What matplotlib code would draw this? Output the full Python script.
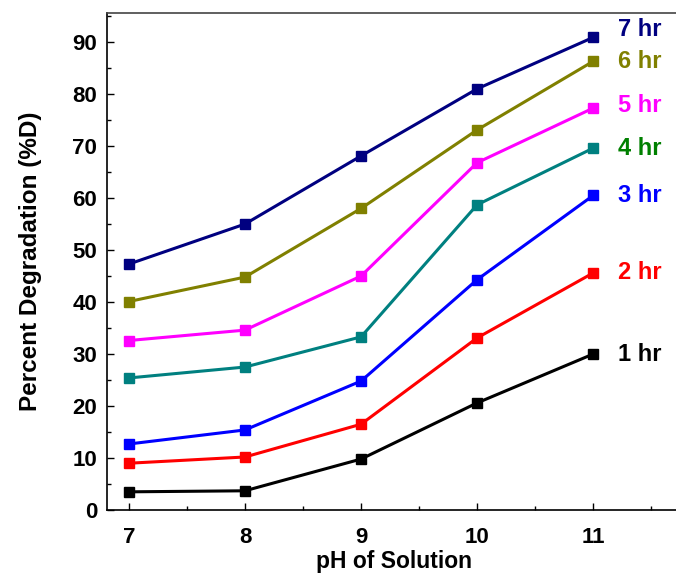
import matplotlib
matplotlib.use('Agg')
from matplotlib import pyplot as plt
from matplotlib.ticker import MultipleLocator

plt.rcParams['font.family'] = ['Liberation Sans', 'DejaVu Sans']
plt.rcParams['font.weight'] = 'bold'

ph = [7, 8, 9, 10, 11]
hr1 = [3.5, 3.7, 9.8, 20.6, 30.0]
hr2 = [9.0, 10.2, 16.5, 33.1, 45.6]
hr3 = [12.7, 15.4, 24.8, 44.3, 60.5]
hr4 = [25.4, 27.5, 33.3, 58.7, 69.6]
hr5 = [32.6, 34.6, 45.0, 66.8, 77.3]
hr6 = [40.1, 44.8, 58.0, 73.1, 86.3]
hr7 = [47.3, 55.0, 68.1, 81.0, 90.9]

series = [hr1, hr2, hr3, hr4, hr5, hr6, hr7]
labels = ['1 hr', '2 hr', '3 hr', '4 hr', '5 hr', '6 hr', '7 hr']
line_colors = ['#000000', '#ff0000', '#0000ff', '#008080', '#ff00ff', '#808000', '#000080']
text_colors = ['#000000', '#ff0000', '#0000ff', '#008000', '#ff00ff', '#808000', '#000080']
label_y = [30, 45.6, 60.5, 69.6, 77.8, 86.3, 92.5]

fig = plt.figure(figsize=(6.76, 5.78), dpi=100)
ax = fig.add_axes([0.158, 0.1176, 0.85, 0.86])

for y, lab, c, tc, ly in zip(series, labels, line_colors, text_colors, label_y):
    ax.plot(ph, y, color=c, lw=2.2, marker='s', ms=7, mec=c, mfc=c)
    ax.text(11.21, ly, lab, color=tc, fontsize=17, fontweight='bold', va='center', ha='left')

ax.set_xlim(6.81, 11.76)
ax.set_ylim(0, 95.6)
ax.xaxis.set_major_locator(MultipleLocator(1))
ax.xaxis.set_minor_locator(MultipleLocator(0.5))
ax.yaxis.set_major_locator(MultipleLocator(10))
ax.yaxis.set_minor_locator(MultipleLocator(5))
ax.tick_params(which='both', direction='in', labelsize=16)
ax.tick_params(which='major', length=5, width=1)
ax.tick_params(which='minor', length=3, width=1)
ax.tick_params(axis='x', pad=12)
ax.tick_params(axis='y', pad=7)
ax.spines['right'].set_visible(False)
for s in ['left', 'bottom', 'top']:
    ax.spines[s].set_linewidth(1.2)
ax.spines['top'].set_color('#444444')

ax.set_xlabel('pH of Solution', fontsize=16.5, fontweight='bold', labelpad=2)
ax.set_ylabel('Percent Degradation (%D)', fontsize=17.5, fontweight='bold', labelpad=22)

fig.savefig('out.png', dpi=100)
